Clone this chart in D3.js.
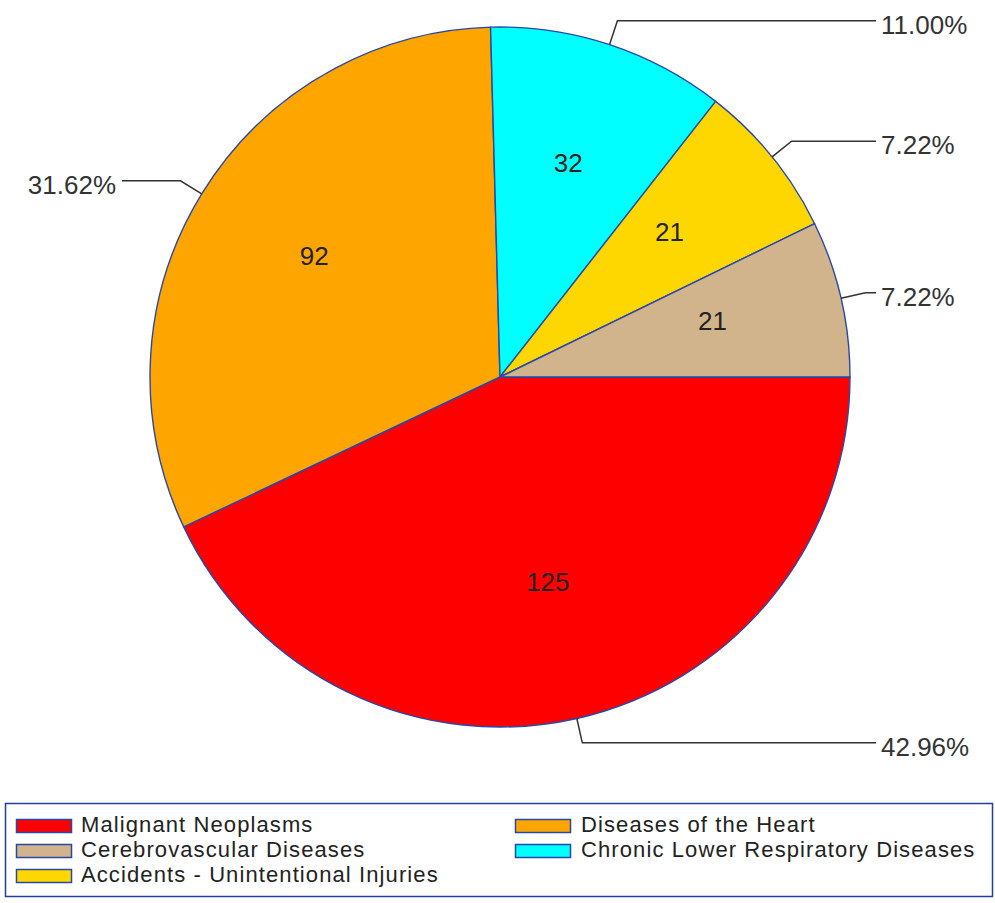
<!DOCTYPE html>
<html><head><meta charset="utf-8">
<script src="https://cdn.jsdelivr.net/npm/d3@7"></script>
<style>body{margin:0;background:#fff} svg{display:block}</style>
</head><body><svg id="c" width="995" height="903"></svg>
<script>
// Data (pie order, clockwise from 3 o'clock)
const categories = ["Malignant Neoplasms","Diseases of the Heart","Chronic Lower Respiratory Diseases","Accidents - Unintentional Injuries","Cerebrovascular Diseases"];
const values = [125, 92, 32, 21, 21];
const colors = ["#ff0000","#ffa500","#00ffff","#ffd700","#d2b48c"];
// Legend order (row-major, two columns)
const legendOrder = ["Malignant Neoplasms","Diseases of the Heart","Cerebrovascular Diseases","Chronic Lower Respiratory Diseases","Accidents - Unintentional Injuries"];

const svg = d3.select("#c");
const cx = 500, cy = 377, R = 350, Rlab = 218, Relbow = 375;
const total = d3.sum(values);
const color = d3.scaleOrdinal().domain(categories).range(colors);
const fmt = d3.format(".2%");

const data = categories.map((c,i)=>({cat:c, value:values[i]}));
const pie = d3.pie().value(d=>d.value).sort(null)
  .startAngle(Math.PI/2).endAngle(Math.PI/2 + 2*Math.PI);
const arcs = pie(data);
const arc = d3.arc().innerRadius(0).outerRadius(R);

const g = svg.append("g").attr("transform",`translate(${cx},${cy})`);
g.selectAll("path.slice").data(arcs).join("path")
  .attr("class","slice")
  .attr("d",arc)
  .attr("fill",d=>color(d.data.cat))
  .attr("stroke","#2848a8")
  .attr("stroke-width",1.4)
  .attr("stroke-linejoin","round");

// inner value labels
g.selectAll("text.val").data(arcs).join("text")
  .attr("class","val")
  .attr("x",d=>Rlab*Math.sin((d.startAngle+d.endAngle)/2))
  .attr("y",d=>-Rlab*Math.cos((d.startAngle+d.endAngle)/2))
  .attr("dy","0.06em")
  .attr("text-anchor","middle")
  .attr("font-family","Liberation Sans, Arial, sans-serif")
  .attr("font-size",26)
  .attr("fill","#222")
  .text(d=>d.data.value);

// leader lines & percent labels
arcs.forEach(d=>{
  const a = (d.startAngle+d.endAngle)/2;
  const sx = Math.sin(a), sy = -Math.cos(a);
  const p0 = [R*sx, R*sy];
  const p1 = [Relbow*sx, Relbow*sy];
  const right = sx >= 0;
  const endX = right ? 876 - cx : 122 - cx;
  g.append("path")
    .attr("d", d3.line()([p0, p1, [endX, p1[1]]]))
    .attr("fill","none").attr("stroke","#333").attr("stroke-width",1.5);
  g.append("text")
    .attr("x", right ? endX + 5 : endX - 6)
    .attr("y", p1[1] + 13)
    .attr("text-anchor", right ? "start" : "end")
    .attr("font-family","Liberation Sans, Arial, sans-serif")
    .attr("font-size",26)
    .attr("fill","#333")
    .text(fmt(d.data.value/total));
});

// legend
const lg = svg.append("g");
lg.append("rect").attr("x",5.5).attr("y",803.5).attr("width",987).attr("height",93)
  .attr("fill","#fff").attr("stroke","#2040a0").attr("stroke-width",1.5);
const colX = [16, 515], textX = [81, 581];
legendOrder.forEach((c,i)=>{
  const col = i%2, row = Math.floor(i/2);
  const y0 = 819 + row*25;
  lg.append("rect").attr("x",colX[col]+0.5).attr("y",y0+0.5).attr("width",55).attr("height",13)
    .attr("fill",color(c)).attr("stroke","#2848a8").attr("stroke-width",1.5);
  lg.append("text").attr("x",textX[col]).attr("y",y0+13)
    .attr("font-family","Liberation Sans, Arial, sans-serif")
    .attr("font-size",22).attr("letter-spacing","1.1px")
    .attr("fill","#222").text(c);
});
</script></body></html>
